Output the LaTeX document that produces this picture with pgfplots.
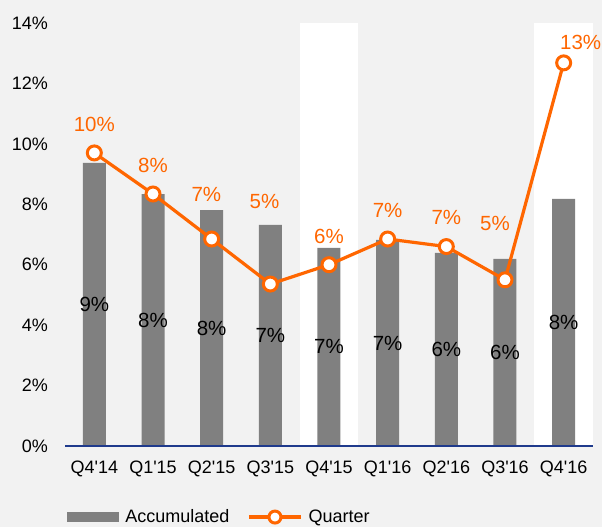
\documentclass[border=0pt]{standalone}
\usepackage{pgfplots}
\pgfplotsset{compat=1.18}
\usepackage{pgfplotstable}
\usepackage{fontspec}
\setmainfont{Liberation Sans}

\definecolor{bg}{HTML}{F2F2F2}
\definecolor{bargray}{HTML}{808080}
\definecolor{qorange}{HTML}{FF6600}
\definecolor{navy}{HTML}{1F3A8C}

% x, accumulated, quarter
\pgfplotstableread{
x acc  qtr   accl
0 9.37 9.70  9\%
1 8.34 8.34  8\%
2 7.81 6.85  8\%
3 7.32 5.36  7\%
4 6.56 6.00  7\%
5 6.82 6.85  7\%
6 6.39 6.60  6\%
7 6.19 5.50  6\%
8 8.18 12.68 8\%
}\datatable

\begin{document}
\begin{tikzpicture}[x=1pt,y=1pt]
\fill[bg] (0,0) rectangle (602,527);
\begin{axis}[
  at={(65pt,81pt)}, anchor=south west,
  scale only axis, width=528pt, height=423pt,
  xmin=-0.5, xmax=8.5, ymin=0, ymax=14,
  axis on top,
  axis x line*=bottom, axis y line=none,
  x axis line style={navy, line width=1.5pt, -},
  xtick={0,...,8},
  xticklabels={Q4\textquotesingle14,Q1\textquotesingle15,Q2\textquotesingle15,Q3\textquotesingle15,Q4\textquotesingle15,Q1\textquotesingle16,Q2\textquotesingle16,Q3\textquotesingle16,Q4\textquotesingle16},
  major tick length=0pt,
  tick label style={font=\fontsize{18}{21}\selectfont},
  xticklabel style={yshift=-11pt},
  clip=false,
  legend style={at={(0.004,-0.168)}, anchor=west, draw=none, fill=none,
    font=\fontsize{18}{21}\selectfont, legend columns=2,
    /tikz/every odd column/.append style={column sep=4pt},
    /tikz/every even column/.append style={column sep=16pt},
    inner sep=0pt},
  legend cell align=left,
]
\addplot[fill=white, draw=none, forget plot] coordinates {(3.5,0) (4.5,0) (4.5,14) (3.5,14)} -- cycle;
\addplot[fill=white, draw=none, forget plot] coordinates {(7.5,0) (8.5,0) (8.5,14) (7.5,14)} -- cycle;
\addplot[ybar, bar width=23pt, fill=bargray, draw=none,
  legend image code/.code={\fill[bargray] (0pt,-5pt) rectangle (52pt,5pt);}]
  table[x=x, y=acc] {\datatable};
\addlegendentry{Accumulated}
\addplot[qorange, line width=3.2pt, mark=*, mark size=7pt,
  mark options={fill=white, draw=qorange, line width=3pt},
  legend image code/.code={\draw[qorange, line width=3.2pt] (0pt,0pt) -- (52pt,0pt);
    \draw[qorange, line width=3pt, fill=white] (26pt,0pt) circle (6pt);}]
  table[x=x, y=qtr] {\datatable};
\addlegendentry{Quarter}
% labels inside the bars
\addplot[draw=none, mark=none, forget plot, nodes near coords, point meta=explicit symbolic,
  every node near coord/.append style={anchor=center, font=\fontsize{20.5}{24}\selectfont, text=black}]
  table[x=x, y expr=\thisrow{acc}/2, meta=accl] {\datatable};
% labels of the quarter line
\addplot[draw=none, mark=none, forget plot, nodes near coords, point meta=explicit symbolic,
  every node near coord/.append style={anchor=center, font=\fontsize{20.5}{24}\selectfont, text=qorange}]
  coordinates {(0,10.63)[10\%] (1,9.27)[8\%] (1.91,8.31)[7\%] (2.90,8.08)[5\%]
    (4.0,6.95)[6\%] (5.0,7.78)[7\%] (6.0,7.55)[7\%] (6.83,7.38)[5\%] (8.29,13.34)[13\%]};
% y tick labels (no y axis line in the reference)
\pgfplotsinvokeforeach{0,2,4,6,8,10,12,14}{
  \node[anchor=east, font=\fontsize{18}{21}\selectfont, inner sep=0pt, xshift=-17pt] at (axis cs:-0.5,#1) {#1\%};
}
\end{axis}
\pgfresetboundingbox
\path (0,0) rectangle (602,527);
\end{tikzpicture}
\end{document}
